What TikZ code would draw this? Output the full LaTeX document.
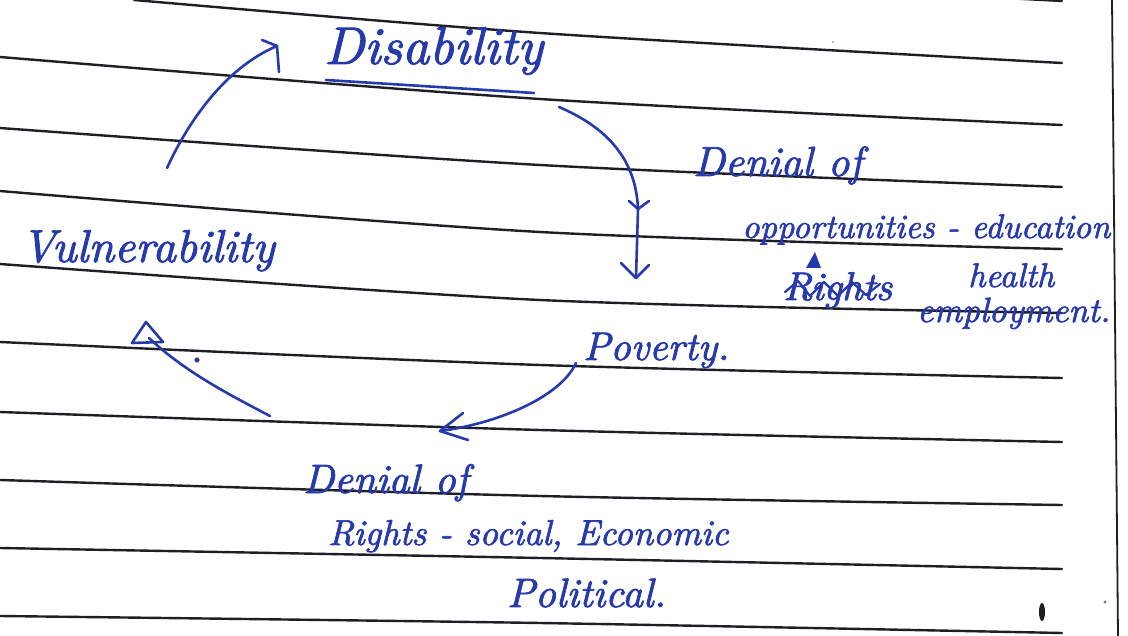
\documentclass[tikz,border=0pt]{standalone}
\usepackage{fontspec}
\usetikzlibrary{calc}
\newfontfamily\handfont{lmroman10-italic.otf}[FakeBold=1.8]
\definecolor{ink}{RGB}{38,58,172}
\definecolor{rule}{RGB}{30,30,36}
\tikzset{
  ruled/.style={draw=rule, line width=2.4pt, line cap=round},
  pen/.style={draw=ink, line width=2.6pt, line cap=round, line join=round},
  hand/.style={text=ink, inner sep=0pt, anchor=base west, font=\handfont},
}
\newcommand{\fsz}[1]{\fontsize{#1}{#1}\selectfont}
\begin{document}
\begin{tikzpicture}[x=1pt,y=-1pt]
\useasboundingbox (0,0) rectangle (1128,636);
\fill[white] (0,0) rectangle (1128,636);
% ruled lines
\draw[ruled] plot[smooth] coordinates {(134,0) (540,33) (1062,63)};
\draw[ruled] (985,-3) -- (1062,1);
\draw[ruled] plot[smooth] coordinates {(0,57) (540,99) (1062,125)};
\draw[ruled] plot[smooth] coordinates {(0,128) (540,165) (1062,187)};
\draw[ruled] plot[smooth] coordinates {(0,191) (540,232) (1062,249)};
\draw[ruled] plot[smooth] coordinates {(0,264) (540,300) (1062,313)};
\draw[ruled] plot[smooth] coordinates {(0,342) (540,365) (1062,378)};
\draw[ruled] plot[smooth] coordinates {(0,412) (540,430) (1062,442)};
\draw[ruled] plot[smooth] coordinates {(0,480) (540,496) (1062,505)};
\draw[ruled] plot[smooth] coordinates {(0,548) (540,558) (1062,569)};
\draw[ruled] plot[smooth] coordinates {(0,616) (540,623) (1062,633)};
% margin line
\draw[rule, line width=1.8pt] (1112,0) -- (1118,636);
% specks
\fill[rule] (1042,612) ellipse (3pt and 9pt);
\fill[rule!60] (1105,602) circle (1.6pt);
\fill[rule!40] (833,42) circle (1.2pt);

% texts
\node[hand] (dis) at (324,64) {\fsz{53}Disability};
\node[hand] (vul) at (21,262) {\fsz{46}Vulnerability};
\node[hand] (pov) at (583,360) {\fsz{40}Poverty.};
\node[hand] (den1) at (693,176) {\fsz{42}Denial of};
\node[hand] (opp) at (742,238) {\fsz{34}opportunities - education};
\node[hand] (rig1) at (783,300) {\fsz{40}Rights};
\node[hand] (hea) at (968,287) {\fsz{34}health};
\node[hand] (emp) at (917,322) {\fsz{35}employment.};
\node[hand] (den2) at (303,493) {\fsz{41}Denial of};
\node[hand] (rig2) at (328,545) {\fsz{36}Rights - social, Economic};
\node[hand] (pol) at (507,607) {\fsz{41}Political.};

% underline of Disability
\coordinate (ul1) at (326,80);
\coordinate (ul2) at (534,93);
\draw[pen] (ul1) -- (ul2);
% scribble over struck word
\draw[pen, line width=2.2pt] (785,292) -- (798,281) -- (810,296) -- (824,282) -- (838,296) -- (852,282) -- (866,295) -- (880,284);
% caret
\fill[ink] (806,268) -- (821,268) -- (815,252) -- cycle;

% arrow Vulnerability -> Disability
\coordinate (a1s) at (167,168);
\coordinate (a1e) at (277,46);
\draw[pen] (a1s) .. controls (188,122) and (225,68) .. (a1e);
\draw[pen] (262,40) -- (a1e) -- (279,72);

% arrow Disability -> Poverty
\coordinate (a2s) at (559,107);
\coordinate (a2m) at (638,209);
\coordinate (a2e) at (636,278);
\draw[pen] (a2s) .. controls (608,128) and (636,160) .. (a2m) -- (a2e);
\draw[pen] (629,201) -- (a2m) -- (649,201);
\draw[pen] (621,263) -- (a2e) -- (649,265);

% arrow Poverty -> Denial of Rights
\coordinate (a3s) at (576,363);
\coordinate (a3e) at (440,431);
\draw[pen] (a3s) .. controls (560,398) and (495,424) .. (a3e);
\draw[pen] (463,413) -- (a3e) -- (468,440);

% arrow Denial of Rights -> Vulnerability
\coordinate (a4s) at (270,416);
\coordinate (a4e) at (149,338);
\draw[pen] (a4s) .. controls (230,395) and (185,372) .. (a4e);
\draw[pen] (146,322) -- (132,343) -- (163,342) -- cycle;
\fill[ink] (197,360) circle (2.6pt);
\end{tikzpicture}
\end{document}
